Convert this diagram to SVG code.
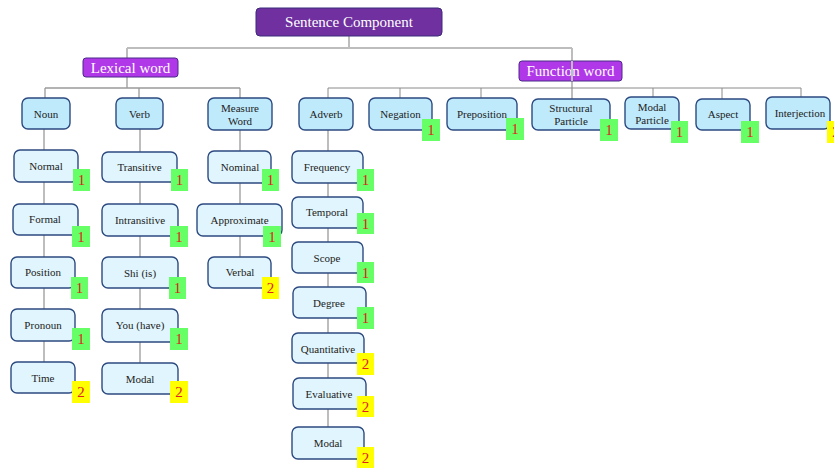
<svg xmlns="http://www.w3.org/2000/svg" width="834" height="469" viewBox="0 0 834 469">
<style>
.c{fill:none;stroke:#9a9a9a;stroke-width:1.3}
.c2{fill:none;stroke:#bdbdbd;stroke-width:2}
.c3{fill:none;stroke:#8a8a8a;stroke-width:1}
.top{fill:#7030a0;stroke:#3a2a7a;stroke-width:1}
.cat{fill:#b038e8;stroke:#4a2a8a;stroke-width:1}
.n1{fill:#bfeafc;stroke:#2c4a80;stroke-width:1.4}
.n2{fill:#e0f5fd;stroke:#2c4a80;stroke-width:1.4}
.wt{font-family:"Liberation Serif","Times New Roman","DejaVu Serif",serif;fill:#fff;text-anchor:middle;dominant-baseline:central;font-size:15px}
.t{font-family:"Liberation Serif","Times New Roman","DejaVu Serif",serif;fill:#222;text-anchor:middle;dominant-baseline:central;font-size:11px}
.g{fill:#66ff66}
.y{fill:#ffff00}
.b{font-family:"Liberation Serif","Times New Roman","DejaVu Serif",serif;fill:#e02020;text-anchor:middle;dominant-baseline:central;font-size:15px}
</style>
<rect width="834" height="469" fill="#fff"/>
<g id="connectors">
<path class="c2" d="M349 36V48M127 48H572M127 48V58M572 48V99"/>
<path class="c" d="M127 77V88M45 88H240M45 88V98M139 88V98M240 88V98"/>
<path class="c3" d="M328 88H801M328 88V98M400 88V98M481 88V98M653 88V97M722 88V99M801 88V97"/>
<path class="c" d="M44 129V362M140 129V363M240 130V257M328 130V427"/>
</g>
<g id="sentence-component"><rect class="top" x="256" y="8" width="186" height="28" rx="4"/><text class="wt" x="349" y="22">Sentence Component</text></g>
<g id="lexical-word"><rect class="cat" x="83" y="58" width="95" height="19" rx="3"/><text class="wt" x="130.500" y="68">Lexical word</text></g>
<g id="function-word"><rect class="cat" x="519" y="61" width="103" height="20" rx="3"/><text class="wt" x="570.500" y="71">Function word</text></g>
<path class="c2" d="M572 61V81"/>

<g id="noun"><rect class="n1" x="22" y="98" width="48" height="31" rx="6"/><text class="t" x="46" y="114">Noun</text></g>
<g id="verb"><rect class="n1" x="116" y="98" width="47" height="31" rx="6"/><text class="t" x="139.500" y="114">Verb</text></g>
<g id="measure-word"><rect class="n1" x="208" y="98" width="64" height="32" rx="6"/><text class="t" x="240" y="108">Measure</text><text class="t" x="240" y="121">Word</text></g>
<g id="adverb"><rect class="n1" x="299" y="98" width="54" height="32" rx="6"/><text class="t" x="326" y="114">Adverb</text></g>
<g id="negation"><rect class="n1" x="369" y="98" width="63" height="32" rx="6"/><text class="t" x="400.500" y="114">Negation</text><rect class="g" x="422" y="119" width="18" height="22"/><text class="b" x="431" y="130">1</text></g>
<g id="preposition"><rect class="n1" x="447" y="98" width="70" height="32" rx="6"/><text class="t" x="482" y="114">Preposition</text><rect class="g" x="506" y="118" width="18" height="22"/><text class="b" x="515" y="129">1</text></g>
<g id="structural-particle"><rect class="n1" x="532" y="99" width="78" height="31" rx="6"/><text class="t" x="571" y="108">Structural</text><text class="t" x="571" y="121">Particle</text><rect class="g" x="600" y="119" width="18" height="22"/><text class="b" x="609" y="130">1</text></g>
<g id="modal-particle"><rect class="n1" x="625" y="97" width="54" height="32" rx="6"/><text class="t" x="652" y="107">Modal</text><text class="t" x="652" y="120">Particle</text><rect class="g" x="671" y="121" width="17" height="22"/><text class="b" x="679.500" y="132">1</text></g>
<g id="aspect"><rect class="n1" x="696" y="99" width="54" height="31" rx="6"/><text class="t" x="723" y="114">Aspect</text><rect class="g" x="741" y="121" width="18" height="22"/><text class="b" x="750" y="132">1</text></g>
<g id="interjection"><rect class="n1" x="766" y="97" width="64" height="32" rx="6"/><text class="t" x="800" y="113">Interjection</text><rect class="y" x="827" y="121" width="18" height="22"/><text class="b" x="836" y="132">2</text></g>

<g id="normal"><rect class="n2" x="14" y="150" width="64" height="32" rx="6"/><text class="t" x="46" y="166">Normal</text><rect class="g" x="73" y="169" width="17" height="22"/><text class="b" x="81.500" y="180">1</text></g>
<g id="formal"><rect class="n2" x="13" y="204" width="65" height="31" rx="6"/><text class="t" x="45" y="219">Formal</text><rect class="g" x="72" y="226" width="18" height="21"/><text class="b" x="81" y="236.500">1</text></g>
<g id="position"><rect class="n2" x="11" y="257" width="64" height="31" rx="6"/><text class="t" x="43" y="272">Position</text><rect class="g" x="71" y="277" width="17" height="22"/><text class="b" x="79.500" y="288">1</text></g>
<g id="pronoun"><rect class="n2" x="11" y="309" width="64" height="32" rx="6"/><text class="t" x="43" y="325">Pronoun</text><rect class="g" x="72" y="328" width="18" height="22"/><text class="b" x="81" y="339">1</text></g>
<g id="time"><rect class="n2" x="11" y="362" width="64" height="31" rx="6"/><text class="t" x="43" y="378">Time</text><rect class="y" x="72" y="381" width="18" height="22"/><text class="b" x="81" y="392">2</text></g>

<g id="transitive"><rect class="n2" x="102" y="152" width="75" height="30" rx="6"/><text class="t" x="139.500" y="167">Transitive</text><rect class="g" x="171" y="169" width="17" height="22"/><text class="b" x="179.500" y="180">1</text></g>
<g id="intransitive"><rect class="n2" x="102" y="204" width="76" height="32" rx="6"/><text class="t" x="140" y="220">Intransitive</text><rect class="g" x="170" y="226" width="18" height="21"/><text class="b" x="179" y="236.500">1</text></g>
<g id="shi"><rect class="n2" x="102" y="257" width="76" height="31" rx="6"/><text class="t" x="140" y="273">Shi (is)</text><rect class="g" x="169" y="277" width="17" height="22"/><text class="b" x="177.500" y="288">1</text></g>
<g id="you"><rect class="n2" x="102" y="309" width="76" height="33" rx="6"/><text class="t" x="140" y="325">You (have)</text><rect class="g" x="170" y="328" width="18" height="22"/><text class="b" x="179" y="339">1</text></g>
<g id="modal-verb"><rect class="n2" x="102" y="363" width="76" height="31" rx="6"/><text class="t" x="140" y="379">Modal</text><rect class="y" x="170" y="381" width="18" height="22"/><text class="b" x="179" y="392">2</text></g>

<g id="nominal"><rect class="n2" x="208" y="151" width="63" height="32" rx="6"/><text class="t" x="240" y="167">Nominal</text><rect class="g" x="262" y="169" width="17" height="22"/><text class="b" x="270.500" y="180">1</text></g>
<g id="approximate"><rect class="n2" x="197" y="204" width="85" height="32" rx="6"/><text class="t" x="239.500" y="220">Approximate</text><rect class="g" x="263" y="226" width="18" height="21"/><text class="b" x="272" y="236.500">1</text></g>
<g id="verbal"><rect class="n2" x="208" y="257" width="63" height="31" rx="6"/><text class="t" x="240" y="272">Verbal</text><rect class="y" x="262" y="277" width="17" height="22"/><text class="b" x="270.500" y="288">2</text></g>

<g id="frequency"><rect class="n2" x="292" y="151" width="71" height="32" rx="6"/><text class="t" x="327" y="167">Frequency</text><rect class="g" x="357" y="169" width="17" height="22"/><text class="b" x="365.500" y="180">1</text></g>
<g id="temporal"><rect class="n2" x="292" y="197" width="71" height="31" rx="6"/><text class="t" x="327" y="212">Temporal</text><rect class="g" x="357" y="213" width="17" height="21"/><text class="b" x="365.500" y="223.500">1</text></g>
<g id="scope"><rect class="n2" x="292" y="242" width="71" height="31" rx="6"/><text class="t" x="327" y="258">Scope</text><rect class="g" x="357" y="262" width="17" height="21"/><text class="b" x="365.500" y="272.500">1</text></g>
<g id="degree"><rect class="n2" x="293" y="287" width="73" height="31" rx="6"/><text class="t" x="329" y="303">Degree</text><rect class="g" x="357" y="307" width="17" height="22"/><text class="b" x="365.500" y="318">1</text></g>
<g id="quantitative"><rect class="n2" x="292" y="333" width="72" height="30" rx="6"/><text class="t" x="328" y="349">Quantitative</text><rect class="y" x="357" y="353" width="17" height="22"/><text class="b" x="365.500" y="364">2</text></g>
<g id="evaluative"><rect class="n2" x="293" y="378" width="73" height="31" rx="6"/><text class="t" x="329" y="394">Evaluative</text><rect class="y" x="357" y="396" width="17" height="21"/><text class="b" x="365.500" y="406.500">2</text></g>
<g id="modal-adverb"><rect class="n2" x="292" y="427" width="72" height="32" rx="6"/><text class="t" x="328" y="443">Modal</text><rect class="y" x="357" y="447" width="17" height="21"/><text class="b" x="365.500" y="457.500">2</text></g>
</svg>
